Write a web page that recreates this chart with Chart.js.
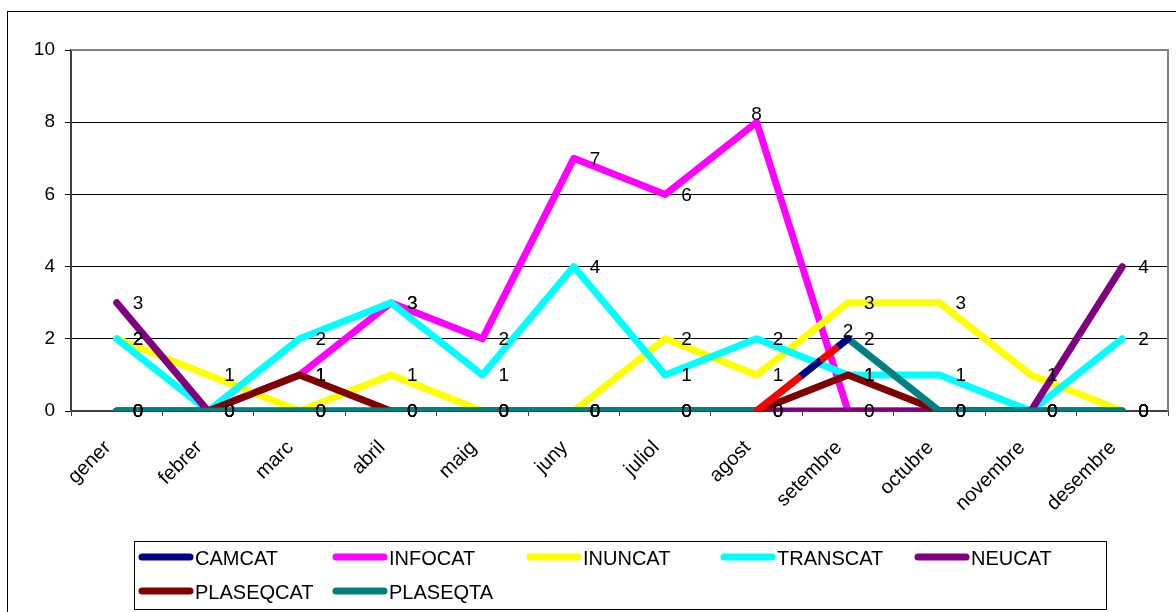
<!DOCTYPE html>
<html>
<head>
<meta charset="utf-8">
<script src="https://cdn.jsdelivr.net/npm/chart.js@4"></script>
<style>
  html, body { margin: 0; padding: 0; background: #fff; overflow: hidden; }
  #wrap { width: 1176px; height: 612px; }
</style>
</head>
<body>
<div id="wrap"><canvas id="chart" width="1176" height="612"></canvas></div>
<script>
"use strict";

const months = ["gener", "febrer", "marc", "abril", "maig", "juny", "juliol", "agost", "setembre", "octubre", "novembre", "desembre"];
const yTicks = [0, 2, 4, 6, 8, 10];

const camcat    = [0, 0, 0, 0, 0, 0, 0, 0, 2, 0, 0, 0];
const infocat   = [0, 0, 1, 3, 2, 7, 6, 8, 0, 0, 0, 0];
const inuncat   = [2, 1, 0, 1, 0, 0, 2, 1, 3, 3, 1, 0];
const transcat  = [2, 0, 2, 3, 1, 4, 1, 2, 1, 1, 0, 2];
const neucat    = [3, 0, 0, 0, 0, 0, 0, 0, 0, 0, 0, 4];
const plaseqcat = [0, 0, 1, 0, 0, 0, 0, 0, 1, 0, 0, 0];
const plaseqta  = [0, 0, 0, 0, 0, 0, 0, 0, 2, 0, 0, 0];

// labels that sit above their point instead of to the right: [series, month index]
const labelsAbove = [["INFOCAT", 7], ["CAMCAT", 8]];

const FONT = "'Liberation Sans', Arial, sans-serif";
let canvas = document.getElementById("chart");
let c2d = canvas.getContext("2d");

// camcat only shows on agost -> setembre, where it is striped red / navy
function camcatSegment(ctx) {
  if (ctx.p0DataIndex !== 7) return "rgba(0,0,0,0)";
  let g = c2d.createLinearGradient(ctx.p0.x, ctx.p0.y, ctx.p1.x, ctx.p1.y);
  g.addColorStop(0, "#ff0000");
  g.addColorStop(0.48, "#ff0000");
  g.addColorStop(0.48, "#000080");
  g.addColorStop(0.7, "#000080");
  g.addColorStop(0.7, "#ff0000");
  g.addColorStop(0.89, "#ff0000");
  g.addColorStop(0.89, "#000080");
  g.addColorStop(1, "#000080");
  return g;
}

function series(label, data, color, order) {
  return {
    label: label,
    data: data,
    borderColor: color,
    backgroundColor: color,
    borderWidth: 7,
    borderCapStyle: "round",
    borderJoinStyle: "round",
    pointRadius: 0,
    pointHoverRadius: 0,
    tension: 0,
    fill: false,
    order: order
  };
}

const datasets = [
  series("CAMCAT", camcat, "#000080", 0),
  series("INFOCAT", infocat, "#ff00ff", 6),
  series("INUNCAT", inuncat, "#ffff00", 5),
  series("TRANSCAT", transcat, "#00ffff", 4),
  series("NEUCAT", neucat, "#800080", 3),
  series("PLASEQCAT", plaseqcat, "#800000", 2),
  series("PLASEQTA", plaseqta, "#008080", 1)
];
datasets[0].segment = { borderColor: camcatSegment };

// value labels, outer frame, plot border and the boxed legend
const extras = {
  id: "extras",
  afterDatasetsDraw(chart) {
    let ctx = chart.ctx;
    ctx.save();
    ctx.fillStyle = "#000";
    ctx.font = "19px " + FONT;
    ctx.textBaseline = "middle";
    chart.data.datasets.forEach((ds, i) => {
      let meta = chart.getDatasetMeta(i);
      meta.data.forEach((pt, j) => {
        let above = labelsAbove.some(l => l[0] === ds.label && l[1] === j);
        if (above) {
          ctx.textAlign = "center";
          ctx.fillText(String(ds.data[j]), pt.x, pt.y - 7);
        } else {
          ctx.textAlign = "left";
          ctx.fillText(String(ds.data[j]), pt.x + 16, pt.y + 1);
        }
      });
    });
    ctx.restore();
  },
  afterDraw(chart) {
    let ctx = chart.ctx;
    let a = chart.chartArea;
    ctx.save();
    // outer frame
    ctx.strokeStyle = "#000";
    ctx.lineWidth = 1;
    ctx.strokeRect(7.5, 11.5, 1200, 700);
    // plot area top / right edge
    ctx.strokeStyle = "#808080";
    ctx.lineWidth = 2;
    ctx.beginPath();
    ctx.moveTo(a.left, a.top);
    ctx.lineTo(a.right, a.top);
    ctx.lineTo(a.right, a.bottom);
    ctx.stroke();
    // legend
    ctx.strokeStyle = "#000";
    ctx.lineWidth = 1;
    ctx.strokeRect(134.5, 541.5, 972, 68);
    ctx.font = "20px " + FONT;
    ctx.textAlign = "left";
    ctx.textBaseline = "middle";
    chart.data.datasets.forEach((ds, i) => {
      let col = i % 5;
      let row = Math.floor(i / 5);
      let x = 139 + col * 194;
      let y = 557 + row * 34;
      ctx.strokeStyle = ds.borderColor;
      ctx.lineWidth = 7;
      ctx.lineCap = "round";
      ctx.beginPath();
      ctx.moveTo(x + 3, y);
      ctx.lineTo(x + 51, y);
      ctx.stroke();
      ctx.fillStyle = "#000";
      ctx.fillText(ds.label, x + 56, y + 2);
    });
    ctx.restore();
  }
};

let myChart = new Chart(c2d, {
  type: "line",
  data: { labels: months, datasets: datasets },
  plugins: [extras],
  options: {
    responsive: false,
    animation: false,
    events: [],
    layout: { padding: { top: 50, right: 8, left: 0, bottom: 0 } },
    plugins: {
      legend: { display: false },
      tooltip: { enabled: false },
      title: { display: false }
    },
    scales: {
      x: {
        offset: true,
        afterFit(scale) { scale.height = 201; },
        grid: {
          offset: true,
          drawOnChartArea: false,
          drawTicks: true,
          tickLength: 5,
          color: "#404040"
        },
        border: { color: "#404040", width: 2 },
        ticks: {
          color: "#000",
          font: { family: FONT, size: 20 },
          minRotation: 45,
          maxRotation: 45,
          autoSkip: false,
          padding: 20,
          labelOffset: -9
        }
      },
      y: {
        min: 0,
        max: 10,
        afterFit(scale) { scale.width = 71; },
        afterBuildTicks(scale) { scale.ticks = yTicks.map(v => ({ value: v })); },
        grid: {
          color: "#000",
          lineWidth: 1,
          drawTicks: true,
          tickLength: 6
        },
        border: { color: "#404040", width: 2 },
        ticks: {
          color: "#000",
          font: { family: FONT, size: 19 },
          padding: 10
        }
      }
    }
  }
});
</script>
</body>
</html>
